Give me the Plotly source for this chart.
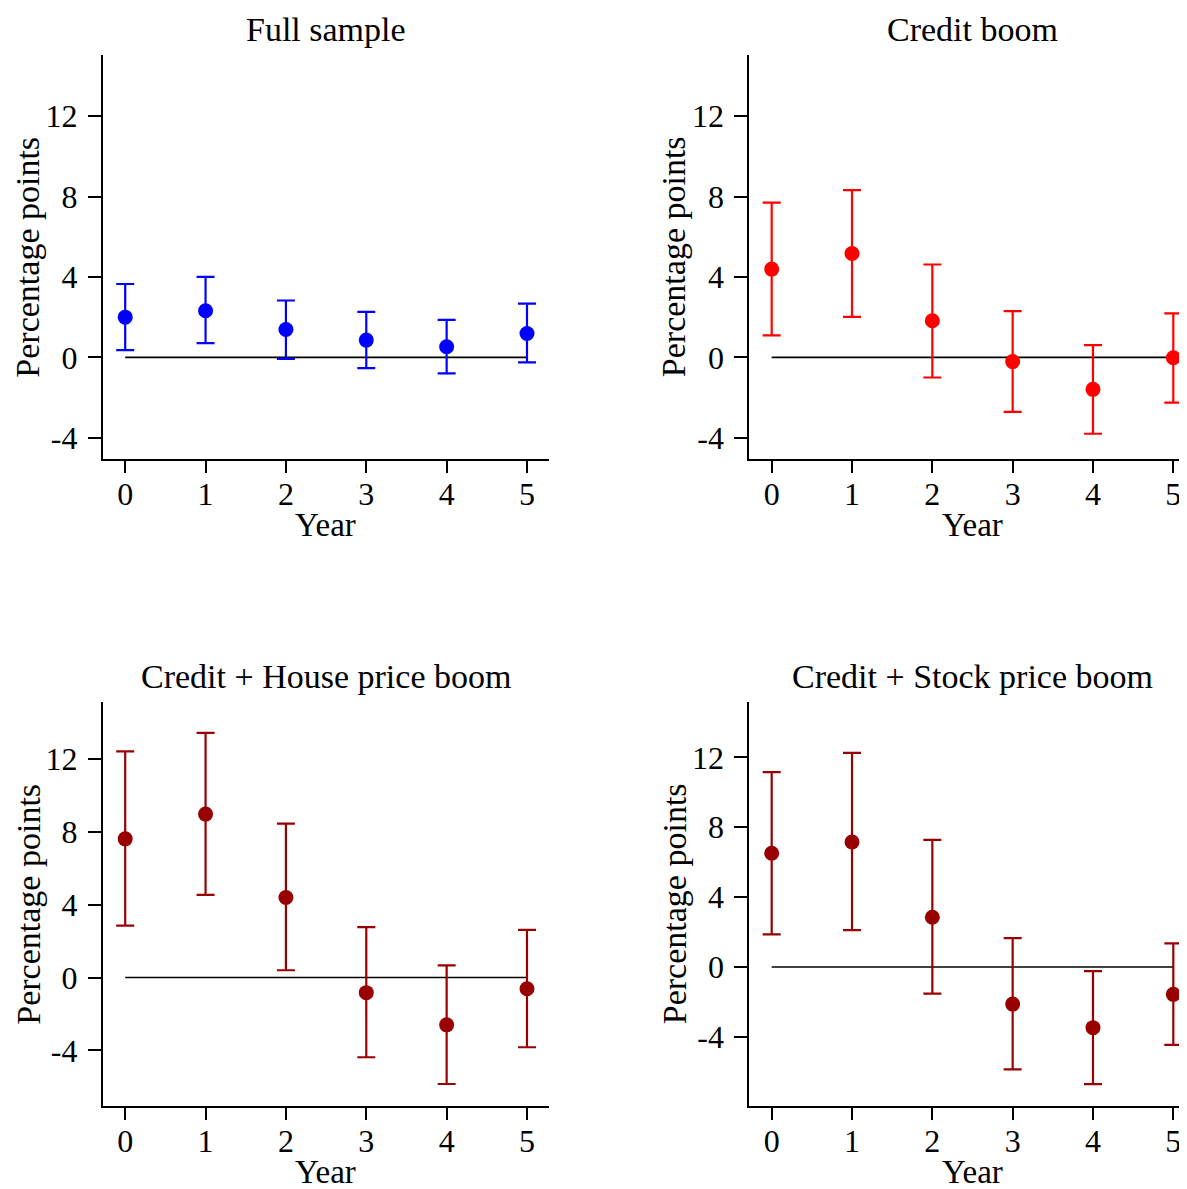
import plotly.graph_objects as go

W, H = 1187, 1189
OFF = 8  # page body margin in the browser

years = [0, 1, 2, 3, 4, 5]
x_tick_labels = ["0", "1", "2", "3", "4", "5"]
y_tick_vals = [-4, 0, 4, 8, 12]
y_tick_labels = ["-4", "0", "4", "8", "12"]

titles = ["Full sample", "Credit boom", "Credit + House price boom", "Credit + Stock price boom"]

full_est = [2.00, 2.32, 1.39, 0.86, 0.53, 1.19]
full_hi = [3.65, 4.00, 2.83, 2.26, 1.87, 2.67]
full_lo = [0.36, 0.71, -0.07, -0.53, -0.80, -0.25]

credit_est = [4.39, 5.17, 1.82, -0.21, -1.59, -0.02]
credit_hi = [7.70, 8.32, 4.62, 2.30, 0.61, 2.19]
credit_lo = [1.09, 2.01, -1.00, -2.71, -3.80, -2.25]

house_est = [7.62, 8.98, 4.40, -0.83, -2.60, -0.62]
house_hi = [12.42, 13.44, 8.46, 2.77, 0.67, 2.62]
house_lo = [2.85, 4.54, 0.40, -4.38, -5.85, -3.83]

stock_est = [6.51, 7.16, 2.85, -2.13, -3.48, -1.57]
stock_hi = [11.16, 12.26, 7.28, 1.65, -0.24, 1.35]
stock_lo = [1.87, 2.11, -1.53, -5.87, -6.71, -4.46]

colors = ["#0000FF", "#FF0000", "#990000", "#990000"]
panels = [
    (full_est, full_hi, full_lo),
    (credit_est, credit_hi, credit_lo),
    (house_est, house_hi, house_lo),
    (stock_est, stock_hi, stock_lo),
]

# plot areas in page pixels (left, right, top, bottom)
boxes = [
    (102.7, 548.7, 54.6, 459.3),
    (749.2, 1195.2, 54.6, 459.3),
    (102.7, 548.7, 701.6, 1106.4),
    (749.2, 1195.2, 701.6, 1106.4),
]
x_range = [-0.28, 5.27]
y_ranges = [[-5.07, 15.06], [-5.07, 15.06], [-7.08, 15.16], [-7.99, 15.2]]

FONT = "Liberation Serif"
fig = go.Figure()
annotations = []
layout = dict(
    width=W, height=H,
    margin=dict(l=0, r=0, t=0, b=0),
    paper_bgcolor="white", plot_bgcolor="white",
    showlegend=False,
    font=dict(family=FONT, size=32, color="black"),
)

for i, ((est, hi, lo), col) in enumerate(zip(panels, colors)):
    n = i + 1
    xa = "x" if n == 1 else f"x{n}"
    ya = "y" if n == 1 else f"y{n}"
    xt = f"x{n + 4}"  # overlay axis carrying tick marks
    l, r, t, b = [v - OFF for v in boxes[i]]
    xd = [l / W, min(r / W, 1.0)]
    yd = [1 - b / H, 1 - t / H]
    # zero reference line
    fig.add_trace(go.Scatter(
        x=[years[0], years[-1]], y=[0, 0], mode="lines",
        line=dict(color="black", width=1.6), xaxis=xa, yaxis=ya, hoverinfo="skip"))
    fig.add_trace(go.Scatter(
        x=years, y=est, mode="markers",
        marker=dict(color=col, size=15),
        error_y=dict(type="data", symmetric=False,
                     array=[h - e for h, e in zip(hi, est)],
                     arrayminus=[e - lo_ for e, lo_ in zip(est, lo)],
                     color=col, thickness=2.2, width=9),
        xaxis=xt, yaxis=ya))
    xkey = "xaxis" if n == 1 else f"xaxis{n}"
    ykey = "yaxis" if n == 1 else f"yaxis{n}"
    layout[xkey] = dict(
        domain=xd, range=x_range, anchor=ya,
        tickmode="array", tickvals=years, ticktext=x_tick_labels,
        showline=True, linecolor="black", linewidth=1.6,
        ticks="", showgrid=False, zeroline=False, ticklabelstandoff=5,
        tickfont=dict(family=FONT, size=32))
    layout[f"xaxis{n + 4}"] = dict(
        domain=xd, range=x_range, anchor=ya, overlaying=xa,
        tickmode="array", tickvals=years, showticklabels=False,
        showline=False, ticks="outside", ticklen=13, tickwidth=1.6, tickcolor="black",
        showgrid=False, zeroline=False)
    layout[ykey] = dict(
        domain=yd, range=y_ranges[i], anchor=xa,
        tickmode="array", tickvals=y_tick_vals, ticktext=y_tick_labels,
        showline=True, linecolor="black", linewidth=1.6,
        ticks="outside", ticklen=13, tickwidth=1.6, tickcolor="black",
        showgrid=False, zeroline=False, ticklabelstandoff=4,
        tickfont=dict(family=FONT, size=32))
    cx = (l + r) / 2
    cy = (t + b) / 2
    annotations.append(dict(
        text=titles[i], x=cx / W, y=1 - (t - 25) / H, xref="paper", yref="paper",
        xanchor="center", yanchor="middle", showarrow=False,
        font=dict(family=FONT, size=34)))
    annotations.append(dict(
        text="Year", x=cx / W, y=1 - (b + 66) / H, xref="paper", yref="paper",
        xanchor="center", yanchor="middle", showarrow=False,
        font=dict(family=FONT, size=33)))
    annotations.append(dict(
        text="Percentage points", x=(l - 75) / W, y=1 - cy / H, xref="paper", yref="paper",
        xanchor="center", yanchor="middle", showarrow=False, textangle=-90,
        font=dict(family=FONT, size=34)))

layout["annotations"] = annotations
fig.update_layout(**layout)
fig.write_html("out.html")
